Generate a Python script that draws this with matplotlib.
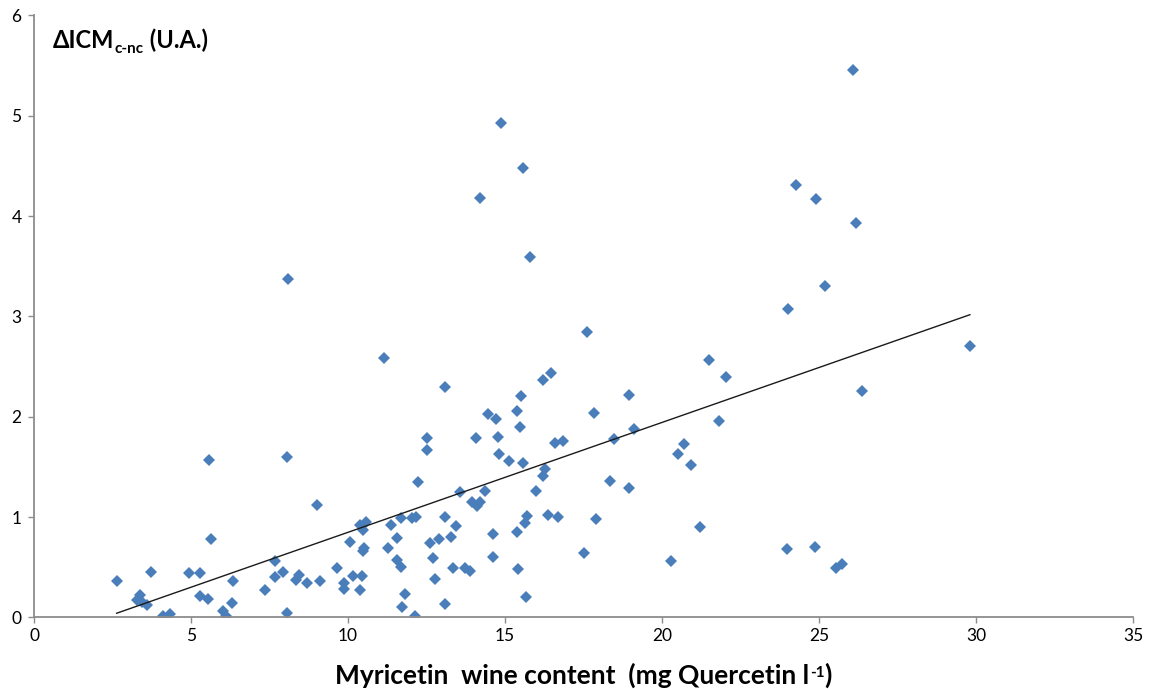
import numpy as np
import matplotlib.pyplot as plt

plt.rcParams['font.family'] = ['Lato', 'DejaVu Sans']

# myricetin content (mg quercetin/l) vs delta ICM
myricetin = [2.63, 3.27, 3.38, 3.45, 3.59, 3.72, 4.12, 4.33, 4.95, 5.27,
             5.29, 5.55, 5.58, 5.63, 6.03, 6.11, 6.30, 6.33, 7.36, 7.68,
             7.68, 7.92, 8.05, 8.05, 8.10, 8.34, 8.44, 8.70, 9.02, 9.11,
             9.64, 9.87, 9.87, 10.06, 10.15, 10.38, 10.38, 10.44, 10.47, 10.47,
             10.52, 10.57, 11.15, 11.27, 11.36, 11.55, 11.55, 11.68, 11.68, 11.72,
             11.80, 12.02, 12.12, 12.17, 12.21, 12.51, 12.51, 12.61, 12.70, 12.78,
             12.89, 13.10, 13.10, 13.10, 13.29, 13.33, 13.42, 13.57, 13.72, 13.88,
             13.93, 14.06, 14.10, 14.20, 14.20, 14.37, 14.46, 14.61, 14.61, 14.71,
             14.76, 14.80, 14.88, 15.12, 15.37, 15.37, 15.41, 15.48, 15.50, 15.56,
             15.57, 15.63, 15.67, 15.69, 15.80, 15.99, 16.20, 16.22, 16.26, 16.35,
             16.47, 16.60, 16.69, 16.84, 17.52, 17.62, 17.83, 17.88, 18.34, 18.47,
             18.94, 18.94, 19.11, 20.28, 20.52, 20.70, 20.91, 21.22, 21.49, 21.81,
             22.03, 24.00, 23.99, 24.27, 24.86, 24.90, 25.19, 25.54, 25.72, 26.09,
             26.18, 26.35, 29.80]
delta_icm = [0.36, 0.17, 0.22, 0.15, 0.12, 0.45, 0.01, 0.03, 0.44, 0.44,
             0.21, 0.18, 1.57, 0.78, 0.06, 0.01, 0.14, 0.36, 0.27, 0.56,
             0.40, 0.45, 1.60, 0.04, 3.37, 0.37, 0.42, 0.34, 1.12, 0.36,
             0.49, 0.34, 0.28, 0.75, 0.41, 0.92, 0.27, 0.41, 0.87, 0.66,
             0.69, 0.95, 2.58, 0.69, 0.92, 0.79, 0.57, 0.99, 0.50, 0.10,
             0.23, 0.99, 0.01, 1.00, 1.35, 1.79, 1.67, 0.74, 0.59, 0.38,
             0.78, 2.30, 1.00, 0.13, 0.80, 0.49, 0.91, 1.25, 0.49, 0.46,
             1.15, 1.79, 1.11, 1.15, 4.18, 1.26, 2.03, 0.83, 0.60, 1.98,
             1.80, 1.63, 4.93, 1.56, 2.06, 0.85, 0.48, 1.90, 2.21, 1.54,
             4.48, 0.94, 0.20, 1.01, 3.59, 1.26, 2.37, 1.41, 1.48, 1.02,
             2.44, 1.74, 1.00, 1.76, 0.64, 2.84, 2.04, 0.98, 1.36, 1.78,
             2.22, 1.29, 1.88, 0.56, 1.63, 1.73, 1.52, 0.90, 2.56, 1.96,
             2.40, 3.07, 0.68, 4.31, 0.70, 4.17, 3.30, 0.49, 0.53, 5.46,
             3.93, 2.26, 2.70]

x = np.array(myricetin)
y = np.array(delta_icm)

fig = plt.figure(figsize=(11.54, 6.89), dpi=100)
ax = fig.add_axes([0.0295, 0.104, 0.9525, 0.8737])

ax.plot(x, y, linestyle='none', marker='D', ms=6.5, mew=0, color='#4A7EBB')

# linear trendline
k, b = np.polyfit(x, y, 1)
xs = np.array([x.min(), x.max()])
ax.plot(xs, k * xs + b, color='#1a1a1a', lw=1.0)

ax.set_xlim(0, 35)
ax.set_ylim(0, 6)
ax.set_xticks(range(0, 36, 5))
ax.set_yticks(range(0, 7))

for s in ['top', 'right']:
    ax.spines[s].set_visible(False)
for s in ['left', 'bottom']:
    ax.spines[s].set_color('#8c8c8c')
    ax.spines[s].set_linewidth(1.3)
ax.tick_params(direction='out', length=4, width=1.0, color='#8c8c8c',
               labelsize=12.5, labelcolor='black')
ax.tick_params(axis='y', pad=5)
ax.tick_params(axis='x', pad=4)

# x label: main part + superscript "-1" + closing bracket
xl = ax.text(0, -0.111, 'Myricetin  wine content  (mg Quercetin l',
             transform=ax.transAxes, fontsize=19, fontweight='bold',
             va='baseline')
xs1 = ax.annotate('-1', xy=(1, 1), xycoords=xl, xytext=(0.5, -2),
                  textcoords='offset points', fontsize=11, fontweight='bold',
                  va='top')
xs2 = ax.annotate(')', xy=(1, 0), xycoords=(xs1, xl), fontsize=19,
                  fontweight='bold', va='bottom')

# y label inside the axes
t1 = ax.text(0.017, 0.9457, 'ΔICM', transform=ax.transAxes,
             fontsize=17, fontweight='bold', va='baseline')
t2 = ax.annotate('c-nc', xy=(1, 0), xycoords=t1, xytext=(0.5, -3),
                 textcoords='offset points', fontsize=11, fontweight='bold',
                 va='bottom')
ax.annotate(' (U.A.)', xy=(1, 0), xycoords=(t2, t1), fontsize=17,
            fontweight='bold', va='bottom')

# centre the x label under the axes
fig.canvas.draw()
r = fig.canvas.get_renderer()
left = xl.get_window_extent(r).x0
right = xs2.get_window_extent(r).x1
axbb = ax.get_window_extent(r)
shift = (axbb.x0 + axbb.x1) / 2 - (left + right) / 2
xl.set_x(shift / axbb.width)

fig.savefig('out.png', dpi=100)
